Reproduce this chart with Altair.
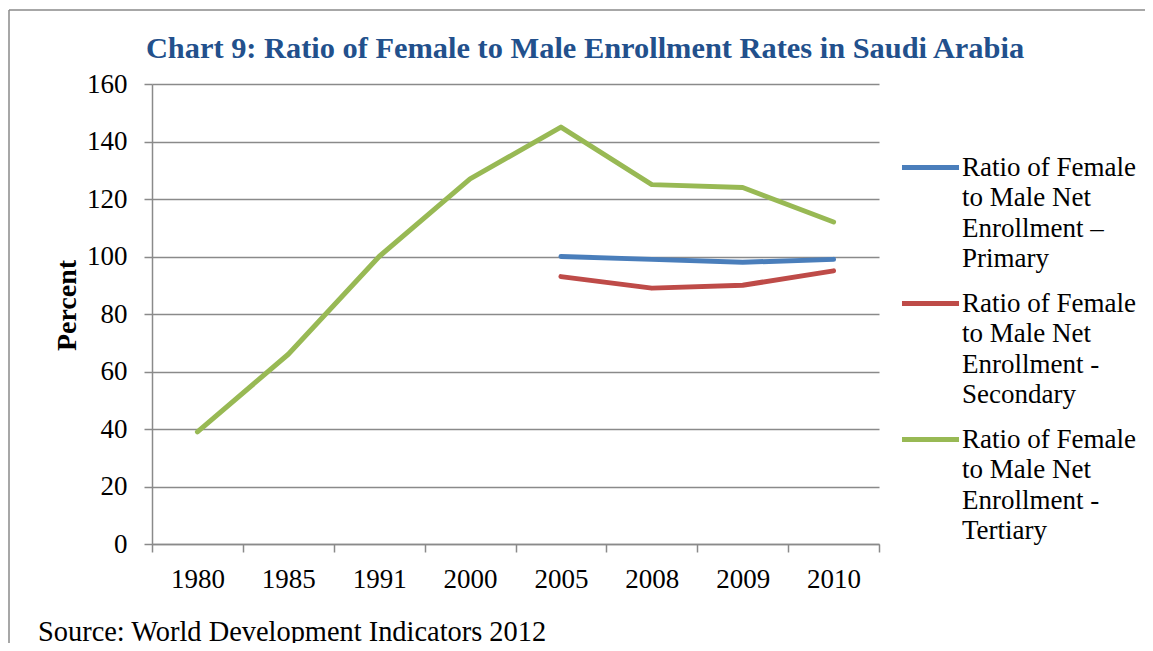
import altair as alt
import pandas as pd

years = ["1980", "1985", "1991", "2000", "2005", "2008", "2009", "2010"]
primary = [None, None, None, None, 100, 99, 98, 99]
secondary = [None, None, None, None, 93, 89, 90, 95]
tertiary = [39, 66, 100, 127, 145, 125, 124, 112]

series_names = [
    "Ratio of Female to Male Net Enrollment – Primary",
    "Ratio of Female to Male Net Enrollment - Secondary",
    "Ratio of Female to Male Net Enrollment - Tertiary",
]
colors = ["#4A7EBB", "#BE4B48", "#98B954"]
y_ticks = [0, 20, 40, 60, 80, 100, 120, 140, 160]

title_text = ["Chart 9: Ratio of Female to Male Enrollment Rates in Saudi Arabia"]
source_text = ["Source: World Development Indicators 2012"]

rows = []
for name, vals in zip(series_names, [primary, secondary, tertiary]):
    for yr, v in zip(years, vals):
        if v is not None:
            rows.append({"year": yr, "value": v, "series": name})
df = pd.DataFrame(rows)

FONT = "Liberation Serif"
GRAY = "#8a8a8a"

label_expr = (
    "['Ratio of Female', 'to Male Net', "
    "'Enrollment ' + (indexof(datum.label, 'Primary') >= 0 ? '–' : '-'), "
    "peek(split(datum.label, ' '))]"
)

lines = alt.Chart(df).mark_line(
    strokeWidth=5, strokeCap="round", strokeJoin="round"
).encode(
    x=alt.X(
        "year:O",
        sort=years,
        scale=alt.Scale(type="band", paddingInner=0, paddingOuter=0),
        bandPosition=0.5,
        axis=alt.Axis(
            title=None,
            tickBand="extent",
            labelAngle=0,
            grid=False,
            domainColor=GRAY,
            domainWidth=1.5,
            tickColor=GRAY,
            tickWidth=1.5,
            tickSize=8,
            labelFont=FONT,
            labelFontSize=27,
            labelColor="#000000",
            labelPadding=14,
        ),
    ),
    y=alt.Y(
        "value:Q",
        scale=alt.Scale(domain=[0, 160], nice=False, zero=True),
        axis=alt.Axis(
            values=y_ticks,
            title="Percent",
            titleFont=FONT,
            titleFontSize=28,
            titleFontWeight="bold",
            titleColor="#000000",
            titlePadding=5,
            titleY=221,
            grid=True,
            gridColor=GRAY,
            gridWidth=1.5,
            domainColor=GRAY,
            domainWidth=1.5,
            tickColor=GRAY,
            tickWidth=1.5,
            tickSize=8,
            labelFont=FONT,
            labelFontSize=27,
            labelColor="#000000",
            labelPadding=17,
        ),
    ),
    color=alt.Color(
        "series:N",
        sort=series_names,
        scale=alt.Scale(domain=series_names, range=colors),
        legend=alt.Legend(
            title=None,
            orient="none",
            legendX=747,
            legendY=52,
            symbolType="stroke",
            symbolStrokeWidth=5,
            symbolSize=3250,
            labelFont=FONT,
            labelFontSize=27,
            labelColor="#000000",
            labelLimit=0,
            labelOffset=0,
            labelExpr=label_expr,
            rowPadding=0,
        ),
    ),
)

title = alt.Chart(pd.DataFrame({"t": title_text})).mark_text(
    font=FONT, fontSize=30.4, fontWeight="bold", align="center",
    baseline="alphabetic", color="#22508C"
).encode(
    text="t:N",
    x=alt.value(433),
    y=alt.value(-26),
)

source = alt.Chart(pd.DataFrame({"t": source_text})).mark_text(
    font=FONT, fontSize=28.4, align="left", baseline="alphabetic", color="#000000"
).encode(
    text="t:N",
    x=alt.value(-114),
    y=alt.value(557),
)

frame_top = alt.Chart(pd.DataFrame({"t": [0]})).mark_rule(
    stroke=GRAY, strokeWidth=1.5
).encode(
    x=alt.value(-143),
    x2=alt.value(993),
    y=alt.value(-74),
)
frame_left = alt.Chart(pd.DataFrame({"t": [0]})).mark_rule(
    stroke=GRAY, strokeWidth=1.5
).encode(
    x=alt.value(-143),
    y=alt.value(-74),
    y2=alt.value(560),
)

chart = alt.layer(frame_top, frame_left, lines, title, source).properties(
    width=727,
    height=460,
    autosize=alt.AutoSizeParams(type="none"),
    padding={"left": 144, "top": 76, "right": 266, "bottom": 99},
).configure(
    view=alt.ViewConfig(stroke=None),
    style={"guide-label": {"lineHeight": 30.5}},
)

chart.save("out.html", embed_options={"renderer": "svg", "actions": False})
